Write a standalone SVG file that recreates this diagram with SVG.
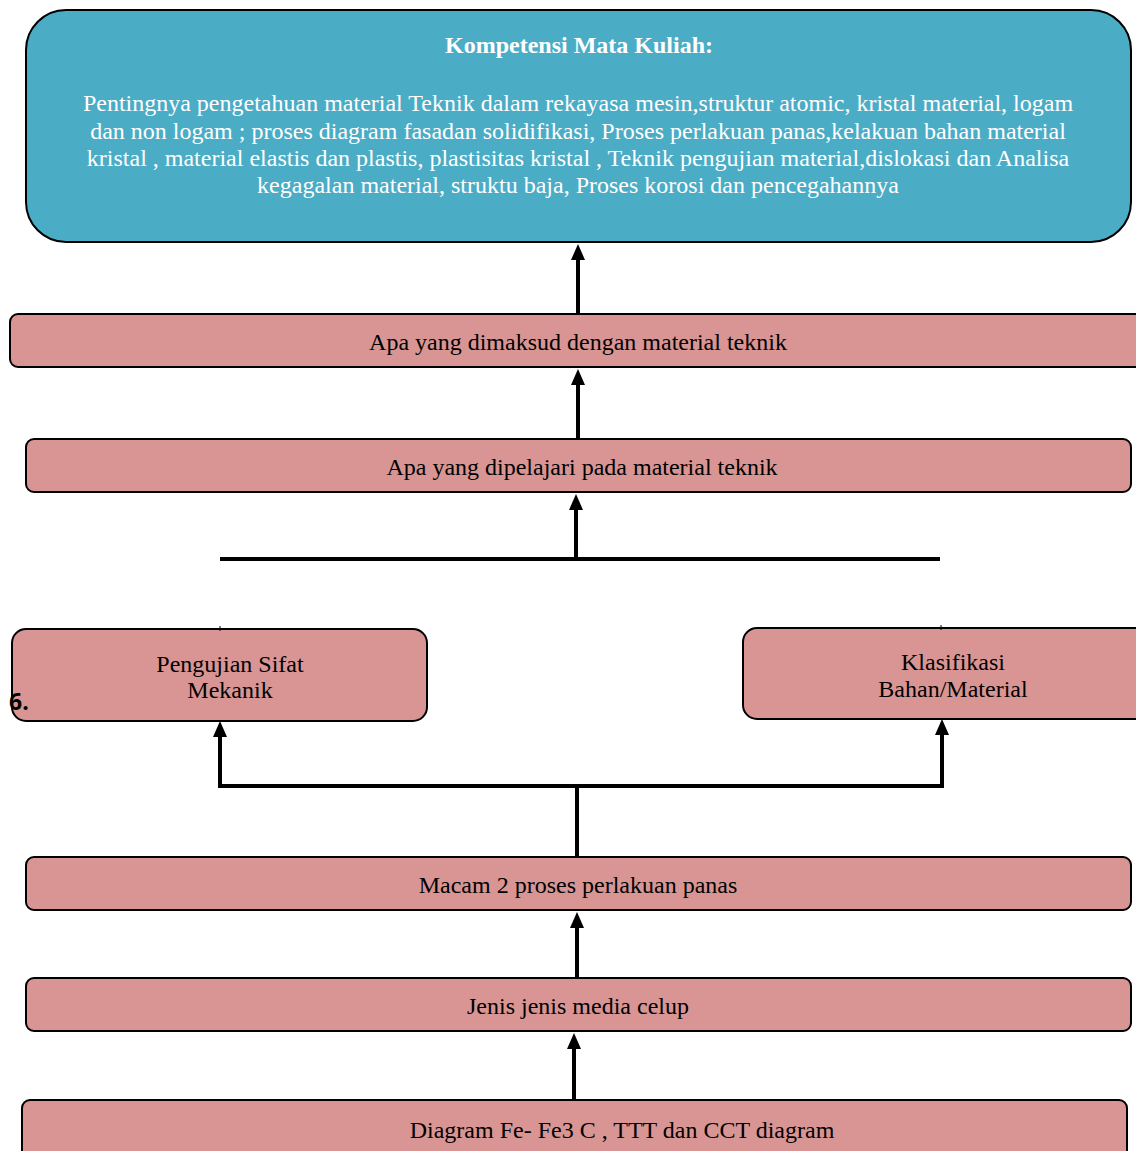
<svg xmlns="http://www.w3.org/2000/svg" width="1136" height="1151" viewBox="0 0 1136 1151">
<style>
.pink{fill:#D99594;stroke:#000;stroke-width:2}
.blue{fill:#4BACC6;stroke:#000;stroke-width:2}
.t{font-family:"Liberation Serif","Times New Roman",serif;font-size:24px;fill:#000;text-anchor:middle}
.w{font-family:"Liberation Serif","Times New Roman",serif;font-size:24px;fill:#fff;text-anchor:middle}
.c{fill:none;stroke:#000;stroke-width:4}
</style>
<rect width="1136" height="1151" fill="#fff"/>
<g id="kompetensi">
<rect class="blue" x="26" y="10" width="1105" height="232" rx="40"/>
<text class="w" x="579" y="53" font-weight="bold">Kompetensi Mata Kuliah:</text>
<text class="w" x="578" y="111">Pentingnya pengetahuan material Teknik dalam rekayasa mesin,struktur atomic, kristal material, logam</text>
<text class="w" x="578" y="139">dan non logam ; proses diagram fasadan solidifikasi, Proses perlakuan panas,kelakuan bahan material</text>
<text class="w" x="578" y="166">kristal , material elastis dan plastis, plastisitas kristal , Teknik pengujian material,dislokasi dan Analisa</text>
<text class="w" x="578" y="193">kegagalan material, struktu baja, Proses korosi dan pencegahannya</text>
</g>
<g id="n1">
<rect class="pink" x="10" y="314" width="1140" height="53" rx="8"/>
<text class="t" x="578" y="350">Apa yang dimaksud dengan material teknik</text>
</g>
<g id="n2">
<rect class="pink" x="26" y="439" width="1105" height="53" rx="8"/>
<text class="t" x="582" y="475">Apa yang dipelajari pada material teknik</text>
</g>
<g id="n3">
<rect class="pink" x="12" y="629" width="415" height="92" rx="14"/>
<text class="t" x="230" y="672">Pengujian Sifat</text>
<text class="t" x="230" y="698">Mekanik</text>
<text x="9" y="710" font-family="Open Sans,'DejaVu Sans',sans-serif" font-weight="bold" font-size="23">6.</text>
</g>
<g id="n4">
<rect class="pink" x="743" y="628" width="410" height="91" rx="14"/>
<text class="t" x="953" y="670">Klasifikasi</text>
<text class="t" x="953" y="697">Bahan/Material</text>
</g>
<g id="n5">
<rect class="pink" x="26" y="857" width="1105" height="53" rx="8"/>
<text class="t" x="578" y="893">Macam 2 proses perlakuan panas</text>
</g>
<g id="n6">
<rect class="pink" x="26" y="978" width="1105" height="53" rx="8"/>
<text class="t" x="578" y="1014">Jenis jenis media celup</text>
</g>
<g id="n7">
<rect class="pink" x="22" y="1100" width="1105" height="70" rx="8"/>
<text class="t" x="622" y="1138">Diagram Fe- Fe3 C , TTT dan CCT diagram</text>
</g>
<g id="connectors">
<line class="c" x1="578" y1="314" x2="578" y2="260"/>
<polygon points="578,244 571,260 585,260" fill="#000"/>
<line class="c" x1="578" y1="439" x2="578" y2="385"/>
<polygon points="578,369 571,385 585,385" fill="#000"/>
<line class="c" x1="220" y1="559" x2="940" y2="559"/>
<line class="c" x1="576" y1="559" x2="576" y2="510"/>
<polygon points="576,494 569,510 583,510" fill="#000"/>
<line stroke="#000" stroke-width="1" x1="220" y1="626" x2="220" y2="631"/>
<line stroke="#000" stroke-width="1" x1="941" y1="625" x2="941" y2="630"/>
<line class="c" x1="577" y1="857" x2="577" y2="786"/>
<polyline class="c" points="220,737 220,786 942,786 942,735"/>
<polygon points="220,721 213,737 227,737" fill="#000"/>
<polygon points="942,719 935,735 949,735" fill="#000"/>
<line class="c" x1="577" y1="978" x2="577" y2="928"/>
<polygon points="577,912 570,928 584,928" fill="#000"/>
<line class="c" x1="574" y1="1100" x2="574" y2="1049"/>
<polygon points="574,1033 567,1049 581,1049" fill="#000"/>
</g>
</svg>
